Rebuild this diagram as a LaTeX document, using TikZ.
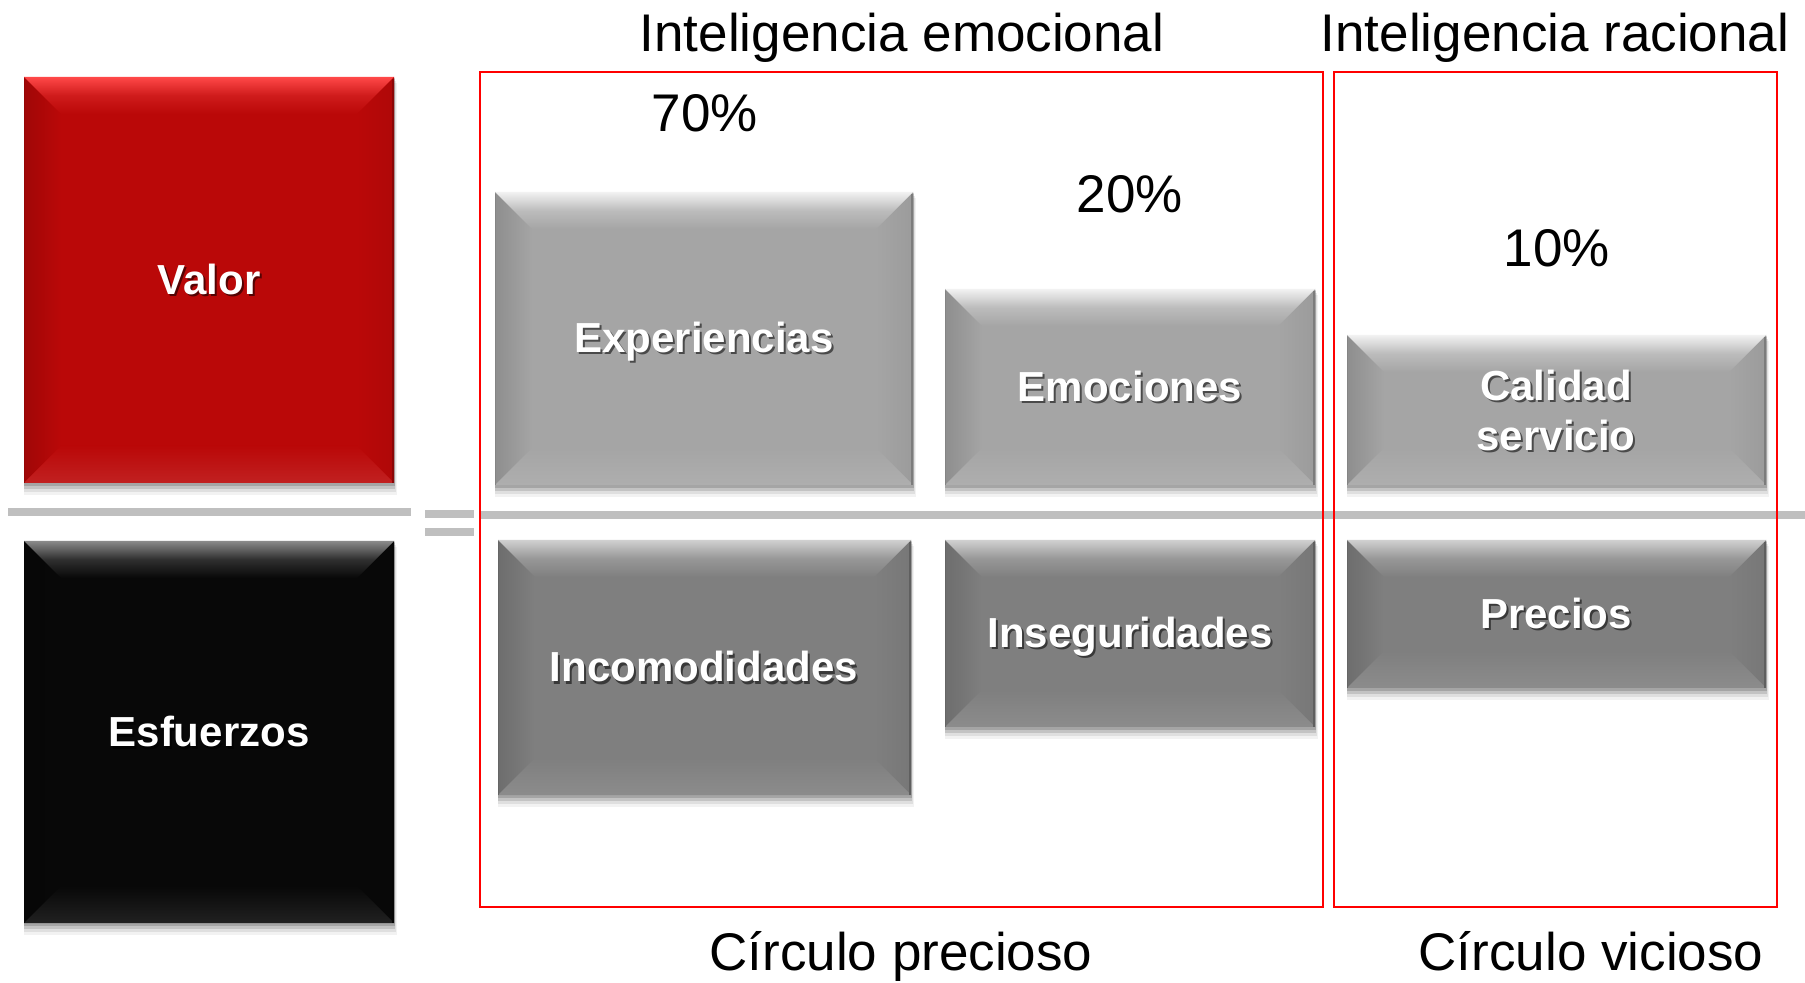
\documentclass[tikz,border=0pt]{standalone}
\usepackage{fontspec}
\setmainfont{Liberation Sans}
\definecolor{valred}{HTML}{BA0808}
\definecolor{valhi}{HTML}{FF4848}
\definecolor{esfblack}{HTML}{080808}
\definecolor{esfhi}{HTML}{8A8A8A}
\definecolor{gtop}{HTML}{A5A5A5}
\definecolor{gtophi}{HTML}{F2F2F2}
\definecolor{gbot}{HTML}{7F7F7F}
\definecolor{gbothi}{HTML}{D0D0D0}
\definecolor{sepgrey}{HTML}{BFBFBF}
\definecolor{framered}{HTML}{FF0000}
\newcommand\bevelbox[6]{%
  \fill[black,opacity=0.05] (#1,#2+6) rectangle (#3+3,#4+12);
  \fill[black,opacity=0.08] (#1,#2+4) rectangle (#3+2,#4+9);
  \fill[black,opacity=0.12] (#1,#2+2) rectangle (#3+1,#4+6);
  \fill[black,opacity=0.15] (#1,#2+1) rectangle (#3+1,#4+3);
  \fill[#5] (#1,#2) rectangle (#3,#4);
  \shade[left color=#5!86!black, right color=#5] (#1,#2) -- (#1+37,#2+37) -- (#1+37,#4-37) -- (#1,#4) -- cycle;
  \shade[right color=#5!94!black, left color=#5] (#3,#2) -- (#3-37,#2+37) -- (#3-37,#4-37) -- (#3,#4) -- cycle;
  \shade[top color=#6, bottom color=#5, middle color=#5!70!#6] (#1,#2) -- (#3,#2) -- (#3-37,#2+37) -- (#1+37,#2+37) -- cycle;
  \shade[top color=#5, bottom color=#5!90!white] (#1,#4) -- (#3,#4) -- (#3-37,#4-37) -- (#1+37,#4-37) -- cycle;
  \draw[#5!75!black, line width=0.8pt] (#3-0.8,#2+2) -- (#3-0.8,#4);
  \draw[#5!80!black, line width=0.6pt] (#1+0.6,#2+2) -- (#1+0.6,#4);
}
\tikzset{
  lbl/.style={font=\bfseries\fontsize{21}{25}\selectfont, text=white, inner sep=0pt, text height=15pt, text depth=0pt},
  lblshadow/.style={lbl, text=black, opacity=0.55},
  lbltwo/.style={font=\bfseries\fontsize{21}{25}\selectfont, text=white, inner sep=0pt, align=center},
  lbltwoshadow/.style={lbltwo, text=black, opacity=0.55},
  title/.style={font=\fontsize{26.5}{30}\selectfont, text=black, inner sep=0pt, anchor=base},
  sepline/.style={draw=sepgrey, line width=4pt},
  frameline/.style={draw=framered, line width=1pt}
}
\begin{document}
\begin{tikzpicture}[x=0.5pt,y=-0.5pt]
\useasboundingbox[fill=white] (0,0) rectangle (1805,983);

% separator lines
\draw[sepline] (8,512) -- (411,512);
\draw[sepline] (425,514) -- (474,514);
\draw[sepline] (425,532.5) -- (474,532.5);
\draw[sepline] (481,515) -- (1805,515);

% frames
\draw[frameline] (480,72) rectangle (1323,907);
\draw[frameline] (1334,72) rectangle (1777,907);

% boxes
\bevelbox{24}{77}{394}{483}{valred}{valhi}
\bevelbox{24}{541}{394}{923}{esfblack}{esfhi}
\bevelbox{495}{192}{913}{485}{gtop}{gtophi}
\bevelbox{945}{289}{1315}{485}{gtop}{gtophi}
\bevelbox{1347}{335}{1766}{485}{gtop}{gtophi}
\bevelbox{498}{540}{911}{795}{gbot}{gbothi}
\bevelbox{945}{540}{1315}{727}{gbot}{gbothi}
\bevelbox{1347}{540}{1766}{688}{gbot}{gbothi}

% labels
\node[lblshadow] (valorS) at (211,282) {Valor};
\node[lbl] (valor) at (209,280) {Valor};
\node[lblshadow] (esfS) at (211,734) {Esfuerzos};
\node[lbl] (esf) at (209,732) {Esfuerzos};
\node[lblshadow] (expS) at (706,340) {Experiencias};
\node[lbl] (exp) at (704,338) {Experiencias};
\node[lblshadow] (emoS) at (1132,389) {Emociones};
\node[lbl] (emo) at (1130,387) {Emociones};
\node[lbltwoshadow] (calS) at (1558,412) {Calidad\\servicio};
\node[lbltwo] (cal) at (1556,410) {Calidad\\servicio};
\node[lblshadow] (incS) at (706,669) {Incomodidades};
\node[lbl] (inc) at (704,667) {Incomodidades};
\node[lblshadow] (insS) at (1132,635) {Inseguridades};
\node[lbl] (ins) at (1130,633) {Inseguridades};
\node[lblshadow] (preS) at (1558,616) {Precios};
\node[lbl] (pre) at (1556,614) {Precios};

% titles and percentages
\node[title] (ie) at (902,52) {Inteligencia emocional};
\node[title] (ir) at (1555,52) {Inteligencia racional};
\node[title] (p70) at (705,132) {70\%};
\node[title] (p20) at (1130,213) {20\%};
\node[title] (p10) at (1557,267) {10\%};
\node[title] (cp) at (901,970) {Círculo precioso};
\node[title] (cv) at (1591,970) {Círculo vicioso};
\end{tikzpicture}
\end{document}
